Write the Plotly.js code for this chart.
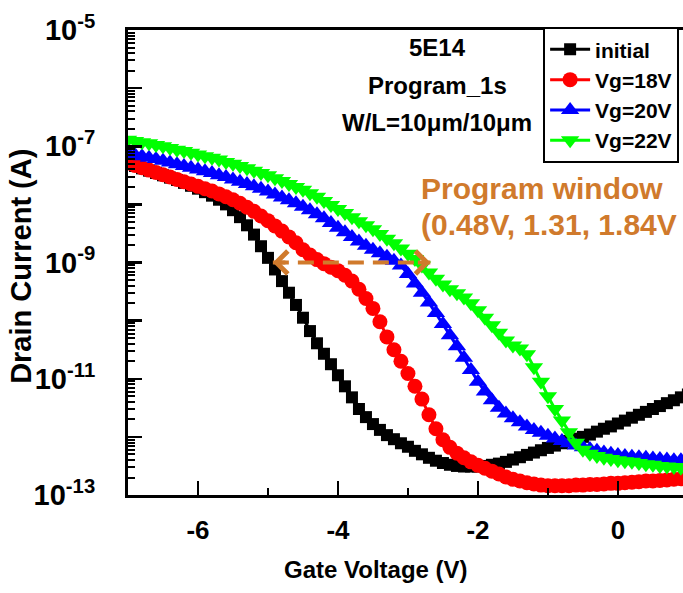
<!DOCTYPE html>
<html>
<head>
<meta charset="utf-8">
<script src="https://cdn.plot.ly/plotly-3.0.1.min.js"></script>
<style>html,body{margin:0;padding:0;background:#fff;overflow:hidden}#chart{width:683px;height:593px}</style>
</head>
<body>
<div id="chart"></div>
<script>
// Gate voltage sweep (V)
const gateVoltage = [-7.0,-6.9,-6.8,-6.7,-6.6,-6.5,-6.4,-6.3,-6.2,-6.1,-6.0,-5.9,-5.8,-5.7,-5.6,-5.5,-5.4,-5.3,-5.2,-5.1,-5.0,-4.9,-4.8,-4.7,-4.6,-4.5,-4.4,-4.3,-4.2,-4.1,-4.0,-3.9,-3.8,-3.7,-3.6,-3.5,-3.4,-3.3,-3.2,-3.1,-3.0,-2.9,-2.8,-2.7,-2.6,-2.5,-2.4,-2.3,-2.2,-2.1,-2.0,-1.9,-1.8,-1.7,-1.6,-1.5,-1.4,-1.3,-1.2,-1.1,-1.0,-0.9,-0.8,-0.7,-0.6,-0.5,-0.4,-0.3,-0.2,-0.1,0.0,0.1,0.2,0.3,0.4,0.5,0.6,0.7,0.8,0.9,1.0];

// log10 of drain current (A)
const logIdInitial = [-7.30,-7.34,-7.38,-7.42,-7.46,-7.50,-7.54,-7.58,-7.63,-7.68,
 -7.73,-7.79,-7.85,-7.92,-8.00,-8.10,-8.22,-8.36,-8.52,-8.72,
 -8.92,-9.12,-9.32,-9.52,-9.73,-9.95,-10.18,-10.39,-10.57,-10.75,
 -10.94,-11.13,-11.32,-11.52,-11.66,-11.78,-11.88,-11.97,-12.04,-12.11,
 -12.17,-12.24,-12.30,-12.36,-12.41,-12.45,-12.48,-12.50,-12.51,-12.51,
 -12.51,-12.50,-12.48,-12.46,-12.43,-12.39,-12.35,-12.31,-12.27,-12.23,
 -12.19,-12.15,-12.11,-12.07,-12.03,-12.00,-11.96,-11.91,-11.86,-11.82,
 -11.77,-11.72,-11.67,-11.62,-11.57,-11.52,-11.47,-11.42,-11.37,-11.32,-11.27];

const logIdVg18 = [-7.29,-7.33,-7.37,-7.41,-7.45,-7.49,-7.53,-7.57,-7.61,-7.65,
 -7.69,-7.73,-7.77,-7.82,-7.87,-7.92,-7.98,-8.05,-8.12,-8.20,
 -8.28,-8.37,-8.46,-8.56,-8.66,-8.78,-8.87,-8.95,-9.02,-9.08,
 -9.14,-9.22,-9.32,-9.46,-9.62,-9.79,-10.02,-10.28,-10.50,-10.70,
 -10.91,-11.13,-11.35,-11.62,-11.86,-12.05,-12.18,-12.28,-12.36,-12.43,
 -12.49,-12.54,-12.59,-12.64,-12.69,-12.73,-12.76,-12.79,-12.81,-12.83,
 -12.84,-12.84,-12.84,-12.84,-12.83,-12.83,-12.82,-12.82,-12.81,-12.80,
 -12.80,-12.79,-12.78,-12.77,-12.76,-12.76,-12.75,-12.74,-12.73,-12.72,-12.71];

const logIdVg20 = [-7.12,-7.15,-7.17,-7.20,-7.22,-7.25,-7.28,-7.31,-7.34,-7.37,
 -7.40,-7.43,-7.46,-7.50,-7.53,-7.57,-7.61,-7.65,-7.69,-7.73,
 -7.78,-7.83,-7.88,-7.93,-7.98,-8.04,-8.10,-8.17,-8.24,-8.32,
 -8.40,-8.48,-8.56,-8.64,-8.71,-8.78,-8.84,-8.90,-8.97,-9.05,
 -9.20,-9.36,-9.52,-9.69,-9.87,-10.06,-10.25,-10.44,-10.64,-10.85,
 -11.05,-11.22,-11.37,-11.50,-11.60,-11.68,-11.75,-11.82,-11.88,-11.93,
 -11.98,-12.03,-12.07,-12.11,-12.15,-12.18,-12.21,-12.24,-12.27,-12.29,
 -12.31,-12.33,-12.34,-12.35,-12.36,-12.37,-12.38,-12.39,-12.40,-12.40,-12.41];

const logIdVg22 = [-6.89,-6.91,-6.93,-6.95,-6.98,-7.00,-7.03,-7.06,-7.08,-7.11,
 -7.14,-7.17,-7.20,-7.23,-7.27,-7.30,-7.34,-7.38,-7.42,-7.46,
 -7.50,-7.55,-7.60,-7.65,-7.70,-7.75,-7.81,-7.87,-7.94,-8.01,
 -8.08,-8.15,-8.22,-8.29,-8.36,-8.43,-8.51,-8.59,-8.67,-8.76,
 -8.85,-8.94,-9.05,-9.17,-9.28,-9.38,-9.46,-9.53,-9.60,-9.70,
 -9.82,-9.95,-10.08,-10.21,-10.34,-10.43,-10.48,-10.58,-10.80,-11.05,
 -11.30,-11.52,-11.72,-11.92,-12.10,-12.22,-12.29,-12.33,-12.36,-12.38,
 -12.40,-12.42,-12.43,-12.45,-12.47,-12.48,-12.50,-12.51,-12.52,-12.53,-12.54];

const seriesNames = ['initial', 'Vg=18V', 'Vg=20V', 'Vg=22V'];

// Axis ticks
const xTickVals = [-6, -4, -2, 0];
const xTickText = ['-6', '-4', '-2', '0'];
const xMinorVals = [-7, -5, -3, -1, 1];
const yLabelledExp = [-13, -11, -9, -7, -5];
const yUnlabelledExp = [-12, -10, -8, -6];
const xTitle = 'Gate Voltage (V)';
const yTitle = 'Drain Current (A)';

// Annotation texts
const infoLines = ['5E14', 'Program_1s', 'W/L=10\u03bcm/10\u03bcm'];
const windowLines = ['Program window', '(0.48V, 1.31, 1.84V'];
const windowArrowV = [-4.93, -2.68];
const windowArrowI = 1e-9;

const toA = arr => arr.map(v => Math.pow(10, v));
const pow10 = e => Math.pow(10, e);

const yMinorVals = [];
[-13, -12, -11, -10, -9, -8, -7, -6].forEach(e => { for (let m = 2; m <= 9; m++) yMinorVals.push(m * pow10(e)); });

const FONT = 'Arial, "Liberation Sans", sans-serif';
const ORANGE = '#D07A2C';

const styles = [
  {color: '#000000', symbol: 'square', size: 12},
  {color: '#FF0000', symbol: 'circle', size: 15},
  {color: '#0000FF', symbol: 'triangle-up', size: 16},
  {color: '#00FF00', symbol: 'triangle-down', size: 16}
];
const series = [logIdInitial, logIdVg18, logIdVg20, logIdVg22];

const traces = series.map((s, i) => ({
  type: 'scatter', mode: 'lines+markers',
  x: gateVoltage, y: toA(s), name: seriesNames[i],
  line: {color: styles[i].color, width: 3},
  marker: {color: styles[i].color, symbol: styles[i].symbol, size: styles[i].size, line: {width: 0}}
}));

traces.push({
  type: 'scatter', mode: 'lines', showlegend: false, hoverinfo: 'skip',
  x: windowArrowV, y: [windowArrowI, windowArrowI],
  line: {color: ORANGE, width: 4, dash: '16px,9px'}
});

const annotations = [];
infoLines.forEach((t, i) => annotations.push({
  xref: 'paper', yref: 'paper', x: 0.557, y: [0.963, 0.88, 0.80][i],
  xanchor: 'center', yanchor: 'middle', showarrow: false, text: t,
  font: {family: FONT, size: 24, weight: 'bold', color: '#000'}
}));
windowLines.forEach((t, i) => annotations.push({
  xref: 'paper', yref: 'paper', x: 0.524, y: [0.66, 0.581][i],
  xanchor: 'left', yanchor: 'middle', showarrow: false, text: t,
  font: {family: FONT, size: 30, weight: 'bold', color: ORANGE}
}));
// axis titles
annotations.push({xref: 'paper', yref: 'paper', x: 0.447, y: -0.161, xanchor: 'center', yanchor: 'middle',
  showarrow: false, text: xTitle, font: {family: FONT, size: 24, weight: 'bold', color: '#000'}});
annotations.push({xref: 'paper', yref: 'paper', x: -0.193, y: 0.4925, xanchor: 'center', yanchor: 'middle',
  textangle: -90, showarrow: false, text: yTitle, font: {family: FONT, size: 29, weight: 'bold', color: '#000'}});
// arrow heads
annotations.push({xref: 'x', yref: 'y', x: windowArrowV[0], y: Math.log10(windowArrowI), ax: 14, ay: 0, text: '',
  showarrow: true, arrowhead: 4, arrowsize: 1.1, arrowwidth: 4, arrowcolor: ORANGE});
annotations.push({xref: 'x', yref: 'y', x: windowArrowV[1], y: Math.log10(windowArrowI), ax: -14, ay: 0, text: '',
  showarrow: true, arrowhead: 4, arrowsize: 1.1, arrowwidth: 4, arrowcolor: ORANGE});

const layout = {
  width: 683, height: 593,
  margin: {l: 128, r: 0, t: 30, b: 98, pad: 0},
  paper_bgcolor: '#fff', plot_bgcolor: '#fff',
  font: {family: FONT, color: '#000'},
  showlegend: true,
  legend: {x: 0.993, xanchor: 'right', y: 1.006, yanchor: 'top', bgcolor: '#fff', bordercolor: '#000', borderwidth: 2,
    font: {family: FONT, size: 21, weight: 'bold', color: '#000'}, tracegroupgap: 0, itemwidth: 40},
  xaxis: {
    range: [-7, 0.93], showgrid: false, zeroline: false,
    showline: true, linewidth: 3, linecolor: '#000', mirror: true,
    ticks: 'inside', ticklen: 14, tickwidth: 2.5, tickcolor: '#000',
    tickmode: 'array', tickvals: xTickVals, ticktext: xTickText,
    tickfont: {family: FONT, size: 26, weight: 'bold'}, ticklabelstandoff: 10,
    minor: {tickmode: 'array', tickvals: xMinorVals, ticks: 'inside', ticklen: 7, tickwidth: 2.5, tickcolor: '#000', showgrid: false}
  },
  yaxis: {
    type: 'log', range: [-13, -5], showgrid: false, zeroline: false,
    showline: true, linewidth: 3, linecolor: '#000', mirror: true,
    ticks: 'inside', ticklen: 14, tickwidth: 2.5, tickcolor: '#000',
    tickmode: 'array', tickvals: yLabelledExp.map(pow10), ticktext: yLabelledExp.map(e => '10<sup>' + e + '</sup>'),
    tickfont: {family: FONT, size: 29, weight: 'bold'}, ticklabelstandoff: 24,
    minor: {tickmode: 'array', tickvals: yMinorVals, ticks: 'inside', ticklen: 7, tickwidth: 2, tickcolor: '#000', showgrid: false}
  },
  yaxis2: {
    type: 'log', range: [-13, -5], overlaying: 'y', side: 'left', showgrid: false, zeroline: false,
    showline: false, showticklabels: false,
    ticks: 'inside', ticklen: 14, tickwidth: 2.5, tickcolor: '#000',
    tickmode: 'array', tickvals: yUnlabelledExp.map(pow10)
  },
  annotations: annotations
};

// invisible anchor trace so the unlabelled-decade tick axis is drawn
traces.push({type: 'scatter', mode: 'none', x: [gateVoltage[0]], y: [pow10(yUnlabelledExp[0])], yaxis: 'y2',
  showlegend: false, hoverinfo: 'skip'});

Plotly.newPlot('chart', traces, layout, {displayModeBar: false, staticPlot: true});
</script>
</body>
</html>
